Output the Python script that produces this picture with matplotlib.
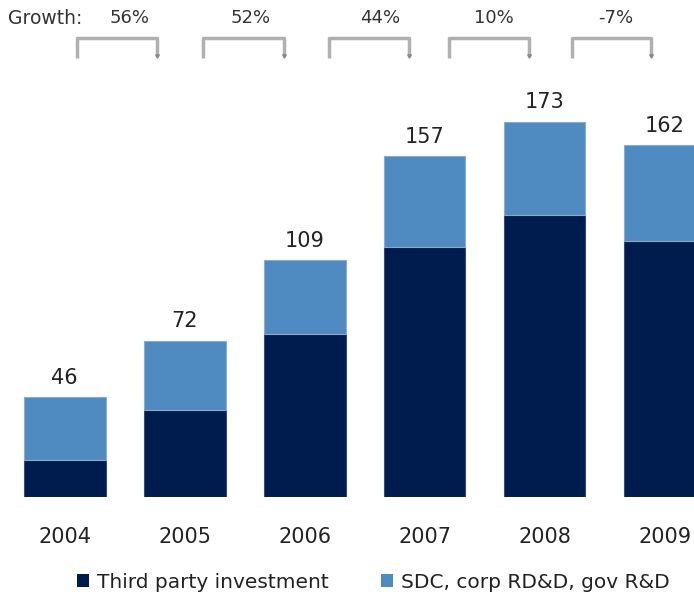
import matplotlib.pyplot as plt
from matplotlib.patches import Patch

years = ["2004", "2005", "2006", "2007", "2008", "2009"]
third_party = [17, 40, 75, 115, 130, 118]
sdc_rdd = [29, 32, 34, 42, 43, 44]
totals = [46, 72, 109, 157, 173, 162]
growth = ["56%", "52%", "44%", "10%", "-7%"]

# bracket layout (x in bar units)
bracket_left = [0.10, 1.15, 2.20, 3.20, 4.225]
bracket_right = [0.767, 1.825, 2.867, 3.867, 4.89]
growth_x = [0.54, 1.55, 2.625, 3.58, 4.59]

dark = "#001B4D"
light = "#4F8BC1"
grey = "#B0B0B0"

plt.rcParams["font.family"] = ["DejaVu Sans"]

fig = plt.figure(figsize=(6.94, 5.94), dpi=100)
ax = fig.add_axes([0, 0.1633, 1, 0.8367])

x = list(range(len(years)))
ax.bar(x, third_party, width=0.68, color=dark, edgecolor="#3A4C6E", linewidth=0.8)
ax.bar(x, sdc_rdd, width=0.68, bottom=third_party, color=light,
       edgecolor="#8FAAC6", linewidth=0.8)

for i, t in enumerate(totals):
    ax.text(i, t + 9, str(t), ha="center", va="center", fontsize=15, color="#222222")

for i, yr in enumerate(years):
    ax.text(i, -18.5, yr, ha="center", va="center", fontsize=15, color="#222222", clip_on=False)

# growth brackets on top
ax.text(-0.47, 220.5, "Growth:", ha="left", va="center", fontsize=13.5, color="#333333")
for i, g in enumerate(growth):
    ax.text(growth_x[i], 220.5, g, ha="center", va="center", fontsize=13, color="#333333")
    l, r = bracket_left[i], bracket_right[i]
    ax.plot([l, l, r, r], [202.5, 211.5, 211.5, 203], color=grey, lw=2.5,
            solid_capstyle="butt", clip_on=False)
    ax.plot([r], [203], marker="v", ms=2.5, color="#8A8A8A", clip_on=False)

ax.set_xlim(-0.54, 5.245)
ax.set_ylim(0, 229)
ax.axis("off")

handles = [Patch(facecolor=dark, label="Third party investment"),
           Patch(facecolor=light, label="SDC, corp RD&D, gov R&D")]
fig.legend(handles=handles, loc="center", bbox_to_anchor=(0.538, 0.02), ncol=2,
           frameon=False, fontsize=14.5, handlelength=0.6, handleheight=0.6,
           handletextpad=0.4, columnspacing=2.6, labelcolor="#222222")

fig.savefig("out.png", dpi=100)
